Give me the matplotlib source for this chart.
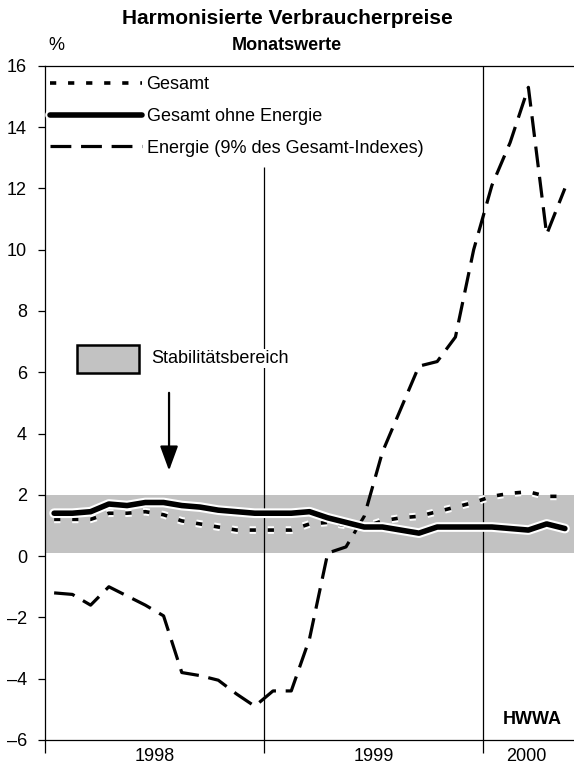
import matplotlib
matplotlib.use("Agg")
import matplotlib.pyplot as plt
import matplotlib.patheffects as pe
from matplotlib.patches import Rectangle
import numpy as np

plt.rcParams['font.family'] = ['Liberation Sans', 'DejaVu Sans']
plt.rcParams['lines.scale_dashes'] = False

# Monatswerte Jan 1998 - Mai 2000, Veraenderung gg. Vorjahr in %
gesamt = [1.2, 1.2, 1.2, 1.4, 1.4, 1.45, 1.35, 1.15, 1.05, 0.95, 0.85, 0.85,
          0.85, 0.85, 1.05, 1.1, 1.0, 0.95, 1.15, 1.25, 1.3, 1.45, 1.6, 1.75,
          1.95, 2.05, 2.1, 1.95, 1.95]
ohne_energie = [1.4, 1.4, 1.45, 1.7, 1.65, 1.75, 1.75, 1.65, 1.6, 1.5, 1.45, 1.4,
                1.4, 1.4, 1.45, 1.25, 1.1, 0.95, 0.95, 0.85, 0.75, 0.95, 0.95, 0.95,
                0.95, 0.9, 0.85, 1.05, 0.9]
energie = [-1.2, -1.25, -1.6, -1.0, -1.3, -1.6, -1.95, -3.8, -3.9, -4.05, -4.5, -4.9,
           -4.4, -4.4, -2.7, 0.1, 0.3, 1.3, 3.4, 4.8, 6.2, 6.35, 7.15, 10.0,
           12.1, 13.5, 15.3, 10.5, 12.0]
jahre = ['1998', '1999', '2000']
stab_band = (0.1, 2.0)

x = np.arange(len(gesamt)) + 0.5
fs = 13

fig = plt.figure(figsize=(5.74, 7.66), dpi=100)
ax = fig.add_axes([0.0784, 0.034, 0.9216, 0.8800])

ax.axhspan(stab_band[0], stab_band[1], color='#c2c2c2', zorder=1, lw=0)

halo = [pe.Stroke(linewidth=7, foreground='white'), pe.Normal()]
ax.plot(x, energie, color='black', lw=2.3, dashes=(15, 7), zorder=3,
        label='Energie (9% des Gesamt-Indexes)')
ax.plot(x, gesamt, color='black', lw=2.6, dashes=(4.5, 8.5), zorder=4,
        path_effects=[pe.Stroke(linewidth=5.5, foreground='white'), pe.Normal()],
        label='Gesamt')
ax.plot(x, ohne_energie, color='black', lw=4, solid_capstyle='round', zorder=5,
        path_effects=halo, label='Gesamt ohne Energie')

# Jahrestrennlinien
ax.vlines(12, -6, 12.7, color='black', lw=0.9, zorder=2)
ax.vlines(24, -6, 16, color='black', lw=0.9, zorder=2)

ax.set_xlim(0, 29)
ax.set_ylim(-6, 16)
ax.set_yticks(np.arange(-6, 17, 2))
ax.set_yticklabels([str(v).replace('-', '\u2013') for v in range(-6, 17, 2)])
ax.tick_params(axis='y', length=5, width=0.9, pad=8, labelsize=fs)

ax.set_xticks([0, 12, 24])
ax.set_xticklabels([])
ax.set_xticks([6, 18, 26.4], minor=True)
ax.set_xticklabels(jahre, minor=True)
ax.tick_params(axis='x', which='major', length=9, width=0.9)
ax.tick_params(axis='x', which='minor', length=0, pad=6, labelsize=fs)

for s in ['left', 'top', 'bottom']:
    ax.spines[s].set_linewidth(0.9)
ax.spines['right'].set_visible(False)

h, l = ax.get_legend_handles_labels()
order = [1, 2, 0]
leg = ax.legend([h[i] for i in order], [l[i] for i in order], loc='upper left',
                bbox_to_anchor=(-0.006, 0.997), frameon=False, fontsize=fs,
                handlelength=5.1, handletextpad=0.25, labelspacing=0.82,
                borderaxespad=0.3, borderpad=0.15)

# Stabilitaetsbereich-Kasten und Pfeil
ax.add_patch(Rectangle((1.75, 5.98), 3.4, 0.92, facecolor='#c2c2c2',
                       edgecolor='black', lw=1.8, zorder=6))
ax.text(5.8, 6.45, 'Stabilitätsbereich', fontsize=fs, va='center', ha='left',
        zorder=6, bbox=dict(facecolor='white', edgecolor='none', pad=1))
ax.annotate('', xy=(6.8, 2.7), xytext=(6.8, 5.42),
            arrowprops=dict(arrowstyle='-|>,head_width=0.55,head_length=1.5',
                            color='black', lw=1.6), zorder=6)

ax.text(0.977, 0.018, 'HWWA', transform=ax.transAxes, fontsize=fs,
        fontweight='bold', ha='right', va='bottom')

fig.text(0.5, 0.976, 'Harmonisierte Verbraucherpreise', ha='center', va='center',
         fontsize=15, fontweight='bold')
fig.text(0.5, 0.940, 'Monatswerte', ha='center', va='center',
         fontsize=13, fontweight='bold')
fig.text(0.098, 0.941, '%', ha='center', va='center', fontsize=fs)

fig.savefig('out.png', dpi=100)
